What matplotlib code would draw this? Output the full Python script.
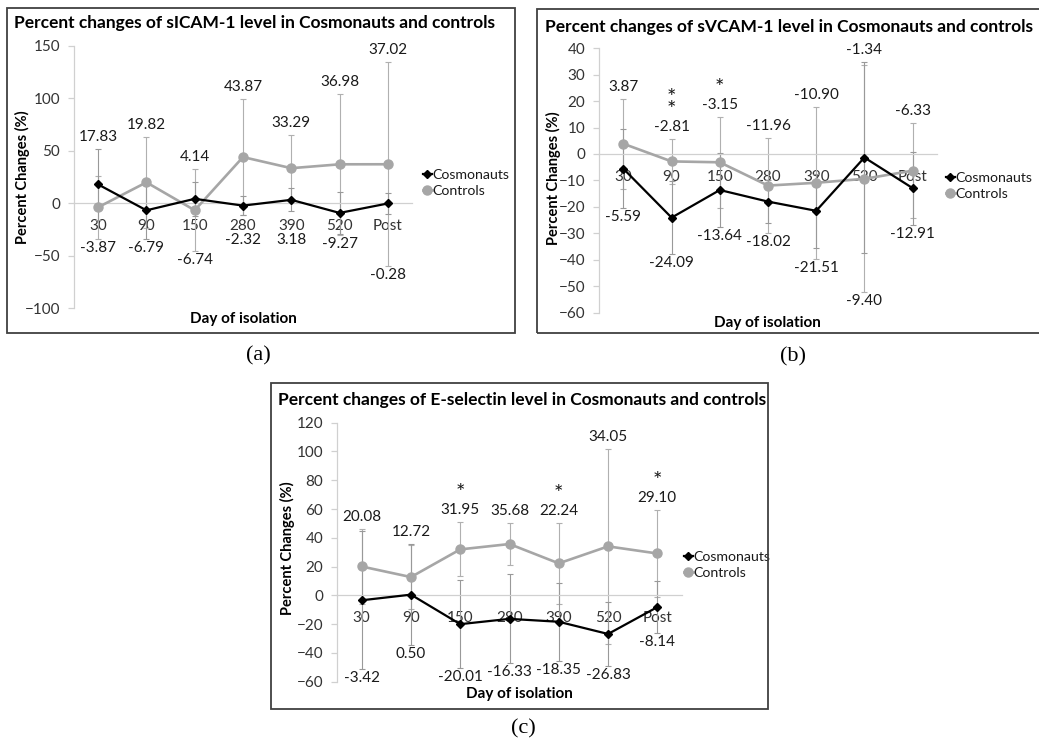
import matplotlib
matplotlib.use("Agg")
import matplotlib.pyplot as plt
from matplotlib.patches import Rectangle
from matplotlib.lines import Line2D

plt.rcParams['font.family'] = ['Lato', 'DejaVu Sans']

# ---------------- data ----------------
days = ['30', '90', '150', '280', '390', '520', 'Post']

sicam_cosm = [17.83, -6.79, 4.14, -2.32, 3.18, -9.27, -0.28]
sicam_ctrl = [-3.87, 19.82, -6.74, 43.87, 33.29, 36.98, 37.02]
sicam_cosm_err = [34, 27, 16, 9, 11, 20, 10]
sicam_ctrl_err = [30, 43, 39, 55, 31.5, 67, 97]
sicam_sig = ['', '', '', '', '', '', '']

svcam_cosm = [-5.59, -24.09, -13.64, -18.02, -21.51, -1.34, -12.91]
svcam_ctrl = [3.87, -2.81, -3.15, -11.96, -10.90, -9.40, -6.33]
svcam_cosm_err = [15, 13.8, 13.9, 8, 14, 36.3, 13.8]
svcam_ctrl_err = [17, 8.5, 17.3, 18, 28.8, 43, 18]
svcam_sig = ['', '**', '*', '', '', '', '']

esel_cosm = [-3.42, 0.50, -20.01, -16.33, -18.35, -26.83, -8.14]
esel_ctrl = [20.08, 12.72, 31.95, 35.68, 22.24, 34.05, 29.10]
esel_cosm_err = [48, 35, 30.7, 31, 27, 22.4, 18]
esel_ctrl_err = [26, 22.3, 18.8, 14.5, 28, 67.6, 30.2]
esel_sig = ['', '', '*', '', '*', '', '*']

titles = ['Percent changes of sICAM-1 level in Cosmonauts and controls',
          'Percent changes of sVCAM-1 level in Cosmonauts and controls',
          'Percent changes of E-selectin level in Cosmonauts and controls']
series_names = ['Cosmonauts', 'Controls']
ylabel = 'Percent Changes (%)'
xlabel = 'Day of isolation'
panel_tags = ['(a)', '(b)', '(c)']

# ---------------- layout ----------------
W, H = 1039, 744
DPI = 100
fig = plt.figure(figsize=(W / DPI, H / DPI), dpi=DPI)
fig.patch.set_facecolor('white')


def fx(x):
    return x / W


def fy(y):
    return 1 - y / H


def axrect(l, r, t, b):
    return [l / W, 1 - b / H, (r - l) / W, (b - t) / H]


panels = [
    dict(rect=(74, 412, 45.5, 308.3), ylim=(-100, 150), step=50,
         cosm=sicam_cosm, ctrl=sicam_ctrl, cerr=sicam_cosm_err, kerr=sicam_ctrl_err, sig=sicam_sig,
         box=(7, 515, 8, 333), title_xy=(254, 23), ylab_xy=(22, 177), xlab_xy=(243, 319),
         leg_xy=(416, 183), tag_xy=(258, 356)),
    dict(rect=(599.3, 936.7, 48.3, 312.5), ylim=(-60, 40), step=10,
         cosm=svcam_cosm, ctrl=svcam_ctrl, cerr=svcam_cosm_err, kerr=svcam_ctrl_err, sig=svcam_sig,
         box=(537, 1050, 9, 333), title_xy=(789, 27), ylab_xy=(553, 178), xlab_xy=(767, 322.5),
         leg_xy=(939, 186), tag_xy=(793, 357)),
    dict(rect=(337, 682, 422.7, 681.7), ylim=(-60, 120), step=20,
         cosm=esel_cosm, ctrl=esel_ctrl, cerr=esel_cosm_err, kerr=esel_ctrl_err, sig=esel_sig,
         box=(271, 768, 383, 709), title_xy=(522, 400), ylab_xy=(287, 548), xlab_xy=(519, 694),
         leg_xy=(677, 565), tag_xy=(523, 729)),
]

TXT = '#1a1a1a'
AXC = '#d0d0d0'
CTRL_C = '#a6a6a6'
FS = 11

for p, title, tag in zip(panels, titles, panel_tags):
    l, r, t, b = p['rect']
    ax = fig.add_axes(axrect(l, r, t, b))
    ax.set_facecolor('none')
    x = list(range(len(days)))
    y0, y1 = p['ylim']
    ax.set_xlim(-0.5, len(days) - 0.5)
    ax.set_ylim(y0, y1)
    ppu = (b - t) / (y1 - y0)  # pixels per unit

    # error bars
    ax.errorbar(x, p['ctrl'], yerr=p['kerr'], fmt='none', ecolor='#b0b0b0',
                elinewidth=0.8, capsize=2, capthick=0.8, zorder=2)
    ax.errorbar(x, p['cosm'], yerr=p['cerr'], fmt='none', ecolor='#999999',
                elinewidth=0.8, capsize=2, capthick=0.8, zorder=2)
    # series
    ax.plot(x, p['cosm'], color='black', lw=1.6, marker='D', markersize=4.5, zorder=4,
            label=series_names[0])
    ax.plot(x, p['ctrl'], color=CTRL_C, lw=1.9, marker='o', markersize=6.5, zorder=3,
            label=series_names[1])

    # axes styling
    for s in ['top', 'right']:
        ax.spines[s].set_visible(False)
    ax.spines['left'].set_color(AXC)
    ax.spines['left'].set_linewidth(0.9)
    ax.spines['bottom'].set_position(('data', 0))
    ax.spines['bottom'].set_color(AXC)
    ax.spines['bottom'].set_linewidth(0.9)
    ax.set_yticks(list(range(y0, y1 + 1, p['step'])))
    ax.tick_params(axis='y', length=4, width=0.9, color=AXC, pad=6,
                   labelsize=FS, labelcolor='#333333')
    ax.set_xticks(x)
    ax.set_xticklabels(days)
    ax.tick_params(axis='x', length=0, pad=11.5, labelsize=FS, labelcolor='#333333')

    # data labels
    for i in x:
        vc, vk = p['cosm'][i], p['ctrl'][i]
        tops = max(vc + p['cerr'][i], vk + p['kerr'][i])
        bots = min(vc - p['cerr'][i], vk - p['kerr'][i])
        hi, lo = (vc, vk) if vc > vk else (vk, vc)
        y_up = tops + 12 / ppu
        y_dn = min(bots - 9 / ppu, -37 / ppu)
        ax.text(i, y_up, f'{hi:.2f}', ha='center', va='center', fontsize=FS,
                color=TXT, zorder=5)
        ax.text(i, y_dn, f'{lo:.2f}', ha='center', va='center', fontsize=FS,
                color=TXT, zorder=5)
        stars = p['sig'][i]
        if stars:
            ax.text(i, y_up + 7 / ppu, '\n'.join(stars), ha='center', va='bottom',
                    fontsize=16, color=TXT, zorder=5, linespacing=0.5)

    # legend
    handles = [Line2D([], [], color='black', lw=1.6, marker='D', markersize=4.5),
               Line2D([], [], color=CTRL_C, lw=1.9, marker='o', markersize=6.5)]
    ax.legend(handles, series_names, loc='center left',
              bbox_to_anchor=(fx(p['leg_xy'][0]), fy(p['leg_xy'][1])),
              bbox_transform=fig.transFigure, frameon=False, fontsize=10.2,
              handlelength=0.6, handletextpad=0.05, borderpad=0, labelspacing=0.3,
              labelcolor=TXT)

    # titles and axis labels
    fig.text(fx(p['title_xy'][0]), fy(p['title_xy'][1]), title, ha='center', va='center',
             fontsize=12.5, fontweight='bold', color='black')
    fig.text(fx(p['ylab_xy'][0]), fy(p['ylab_xy'][1]), ylabel, ha='center', va='center',
             rotation=90, fontsize=FS - 0.5, fontweight='bold', color='black')
    fig.text(fx(p['xlab_xy'][0]), fy(p['xlab_xy'][1]), xlabel, ha='center', va='center',
             fontsize=FS, fontweight='bold', color='black')
    # frame
    bx0, bx1, by0, by1 = p['box']
    fig.patches.append(Rectangle((fx(bx0), fy(by1)), (bx1 - bx0) / W, (by1 - by0) / H,
                                 transform=fig.transFigure, fill=False,
                                 edgecolor='#404040', linewidth=1.3))
    fig.text(fx(p['tag_xy'][0]), fy(p['tag_xy'][1]), tag, ha='center', va='center',
             fontsize=16, family='Liberation Serif', color='black')

fig.savefig('out.png', dpi=DPI, facecolor='white')
